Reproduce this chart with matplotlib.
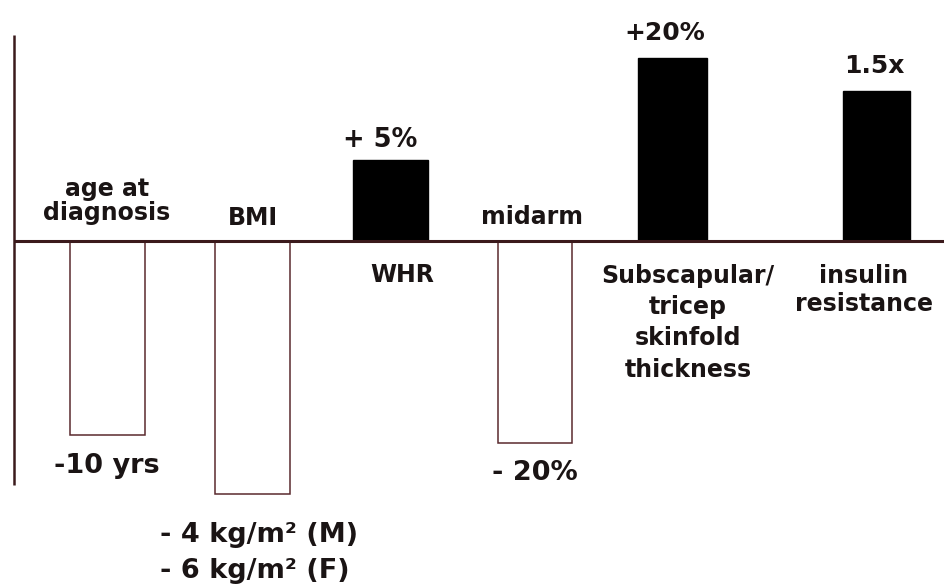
import matplotlib
matplotlib.use("Agg")
import matplotlib.pyplot as plt

# Data (relative bar heights, arbitrary units; baseline = 0)
categories = ["age at\ndiagnosis", "BMI", "WHR", "midarm",
              "Subscapular/\ntricep\nskinfold\nthickness", "insulin\nresistance"]
values = [-194, -253, 81, -202, 183, 150]
value_labels = ["-10 yrs", "- 4 kg/m² (M)", "+ 5%", "- 20%", "+20%", "1.5x"]
value_labels_extra = ["- 6 kg/m² (F)"]

# Layout
xpos = [107.5, 252.5, 390.5, 534.5, 672.5, 876.5]
widths = [75, 75, 75, 74, 69, 67]

plt.rcParams['font.family'] = ['DejaVu Sans']
fig = plt.figure(figsize=(9.44, 5.88), dpi=100)
ax = fig.add_axes([0, 0, 1, 1])
ax.set_xlim(0, 944)
ax.set_ylim(-347, 241)
ax.axis('off')

axcol = '#3b1a1c'
edge = '#5a2a2e'
for x, v, w in zip(xpos, values, widths):
    if v >= 0:
        ax.bar(x, v, width=w, color='black', edgecolor='black', linewidth=1, zorder=2)
    else:
        ax.bar(x, v, width=w, color='white', edgecolor=edge, linewidth=1.1, zorder=2)

ax.plot([14, 944], [0, 0], color=axcol, lw=2.2, zorder=3, solid_capstyle='butt')
ax.plot([14, 14], [206, -244], color=axcol, lw=1.8, zorder=3, solid_capstyle='butt')

tc = '#1a1414'
fw = 'bold'
cs = 17
# category labels
ax.text(107, 16, categories[0], ha='center', va='bottom', fontsize=cs, linespacing=1.0,
        color=tc, fontweight=fw)
ax.text(253, 16, categories[1], ha='center', va='baseline', fontsize=cs, color=tc, fontweight=fw)
ax.text(402, -41, categories[2], ha='center', va='baseline', fontsize=cs, color=tc, fontweight=fw)
ax.text(532, 17, categories[3], ha='center', va='baseline', fontsize=cs, color=tc, fontweight=fw)
ax.text(688, -23, categories[4], ha='center', va='top', fontsize=cs, linespacing=1.38,
        color=tc, fontweight=fw)
ax.text(864, -23, categories[5], ha='center', va='top', fontsize=cs, linespacing=1.22,
        color=tc, fontweight=fw)

# value labels
vs = 19.5
ax.text(107, -232, value_labels[0], ha='center', va='baseline', fontsize=vs, color=tc, fontweight=fw)
ax.text(160, -301, value_labels[1], ha='left', va='baseline', fontsize=vs, color=tc, fontweight=fw)
ax.text(160, -337, value_labels_extra[0], ha='left', va='baseline', fontsize=vs, color=tc, fontweight=fw)
ax.text(380, 94, value_labels[2], ha='center', va='baseline', fontsize=18.5, color=tc, fontweight=fw)
ax.text(535, -239, value_labels[3], ha='center', va='baseline', fontsize=vs, color=tc, fontweight=fw)
ax.text(665, 201, value_labels[4], ha='center', va='baseline', fontsize=18, color=tc, fontweight=fw)
ax.text(874, 168, value_labels[5], ha='center', va='baseline', fontsize=18, color=tc, fontweight=fw)

fig.savefig("out.png", dpi=100, facecolor='white')
